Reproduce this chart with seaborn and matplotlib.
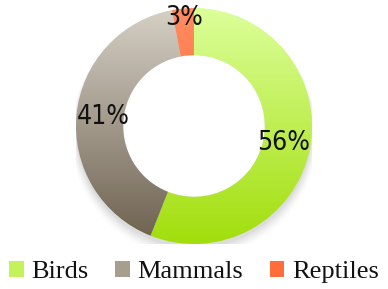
import numpy as np
import matplotlib
matplotlib.use("Agg")
import matplotlib.pyplot as plt
from matplotlib.colors import LinearSegmentedColormap
from matplotlib.patches import Patch
import seaborn as sns

# data
labels = ["Birds", "Mammals", "Reptiles"]
values = [56, 41, 3]
# gradient colours (top, bottom) for each slice
top_colors = ["#dcff9a", "#d6d0c6", "#ff8c62"]
bottom_colors = ["#a2de0c", "#6c604e", "#ff5a1e"]
legend_colors = ["#c4f25a", "#a79e8e", "#ff6e3a"]

sns.set_theme(style="white")
plt.rcParams['font.family'] = ['Liberation Serif', 'DejaVu Serif']

fig = plt.figure(figsize=(3.88, 2.89), dpi=100)
ax = fig.add_axes([76 / 388, 45 / 289, 236 / 388, 236 / 289])

# soft shadow under the ring
for i, a in enumerate(np.linspace(0.06, 0.01, 6)):
    sh = plt.Circle((0, -0.035 - 0.008 * i), 1.0 + 0.01 * i, color="#555555",
                    alpha=a, zorder=0, lw=0)
    ax.add_patch(sh)
ax.add_patch(plt.Circle((0, 0), 0.6, color="white", zorder=0.5, lw=0))

wedges, texts, autotexts = ax.pie(
    values, startangle=90, counterclock=False, radius=1.0,
    autopct="%d%%", pctdistance=0.77,
    wedgeprops=dict(width=0.4, edgecolor="none"),
    textprops=dict(family=['DejaVu Sans'], fontstretch='condensed',
                   fontsize=19, color="#111111"))

# vertical gradient fill clipped to each wedge
grad = np.linspace(1, 0, 256).reshape(-1, 1)
for w, c0, c1 in zip(wedges, top_colors, bottom_colors):
    w.set_facecolor("none")
    cmap = LinearSegmentedColormap.from_list("g", [c1, c0])
    im = ax.imshow(grad, cmap=cmap, extent=[-1, 1, -1, 1], aspect="auto",
                   origin="upper", zorder=1)
    im.set_clip_path(w)

for t in texts:
    t.set_visible(False)

# small slice label sits near the outer rim
w = wedges[2]
mid = np.deg2rad((w.theta1 + w.theta2) / 2)
autotexts[2].set_position((0.92 * np.cos(mid), 0.92 * np.sin(mid)))
for t in autotexts:
    t.set_zorder(5)

ax.set_xlim(-1, 1)
ax.set_ylim(-1, 1)
ax.set_aspect("equal")
ax.axis("off")

handles = [Patch(facecolor=c, edgecolor="none") for c in legend_colors]
leg = fig.legend(handles, labels, loc="center",
                 bbox_to_anchor=(0.5, 1 - 272 / 289),
                 ncol=3, frameon=False, fontsize=19, handlelength=0.55,
                 handleheight=0.55, handletextpad=0.3, columnspacing=1.0,
                 borderaxespad=0, borderpad=0, labelcolor="#111111")

fig.savefig("out.png", dpi=100)
